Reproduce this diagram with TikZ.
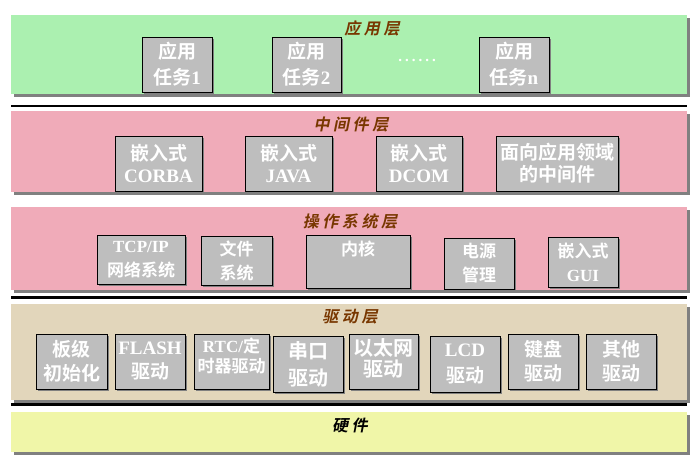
\documentclass[tikz,border=0pt]{standalone}
\usepackage{fontspec}
\setmainfont{Liberation Serif}
\newfontfamily\zhfont{Noto Sans CJK SC Bold}
\newfontfamily\zhtitle{Noto Sans CJK SC Bold}[FakeSlant=0.2,LetterSpace=22]
\usetikzlibrary{shadows}
\definecolor{appgreen}{RGB}{171,240,176}
\definecolor{layerpink}{RGB}{240,171,185}
\definecolor{drvtan}{RGB}{226,214,187}
\definecolor{hwyellow}{RGB}{240,246,168}
\definecolor{boxgray}{RGB}{190,190,190}
\definecolor{shadowgray}{RGB}{128,128,128}
\definecolor{titlebrown}{RGB}{120,55,0}
\newcommand\cn[1]{{\zhfont\mdseries #1}}
\tikzset{
  layer/.style={inner sep=0pt, minimum width=676pt,
    general shadow={fill=shadowgray, shadow xshift=2.5pt, shadow yshift=-2.5pt}},
  layertitle/.style={inner sep=0pt, text=titlebrown, font=\zhtitle\fontsize{16}{18}\selectfont},
  box/.style={draw=black, line width=0.8pt, fill=boxgray, text=white, align=center,
    inner sep=0pt, font=\bfseries\fontsize{19}{26}\selectfont,
    general shadow={fill=shadowgray, shadow xshift=2pt, shadow yshift=-2pt}},
  midbox/.style={box, font=\bfseries\fontsize{19}{22}\selectfont},
  osbox/.style={box, font=\bfseries\fontsize{17}{24}\selectfont},
  drvbox/.style={box, font=\bfseries\fontsize{19}{24}\selectfont},
  sepline/.style={line width=2.5pt, black},
}
\begin{document}
\begin{tikzpicture}[x=1pt,y=-1pt]
\useasboundingbox (0,0) rectangle (699,464);
% layers
\node[layer, fill=appgreen, minimum height=79pt] (app) at (349,54.5) {};
\node[layer, fill=layerpink, minimum height=81pt] (mid) at (349,151.5) {};
\node[layer, fill=layerpink, minimum height=83pt] (os) at (349,248.5) {};
\node[layer, fill=drvtan, minimum height=96pt] (drv) at (349,352) {};
\node[layer, fill=hwyellow, minimum height=40pt] (hw) at (349,432) {};
% separator lines
\coordinate (s1a) at (11,106); \coordinate (s1b) at (687,106);
\coordinate (s2a) at (11,297.5); \coordinate (s2b) at (687,297.5);
\coordinate (s3a) at (11,404.5); \coordinate (s3b) at (687,404.5);
\draw[sepline] (s1a) -- (s1b);
\draw[sepline] (s2a) -- (s2b);
\draw[sepline] (s3a) -- (s3b);
% titles
\node[layertitle] (tapp) at (372,28) {应用层};
\node[layertitle] (tmid) at (351,125) {中间件层};
\node[layertitle] (tos) at (350,221) {操作系统层};
\node[layertitle] (tdrv) at (350,317) {驱动层};
\node[layertitle, text=black] (thw) at (350,425) {硬件};
% application layer
\node[box, minimum width=70pt, minimum height=55pt] (t1) at (177,64.5) {\cn{应用}\\\cn{任务}1};
\node[box, minimum width=69pt, minimum height=55pt] (t2) at (306.5,64.5) {\cn{应用}\\\cn{任务}2};
\node[inner sep=0pt, text=white, font=\bfseries\fontsize{15}{15}\selectfont] (dots) at (417,60) {.\kern3pt.\kern3pt.\kern3pt.\kern3pt.\kern3pt.};
\node[box, minimum width=70pt, minimum height=55pt] (tn) at (514,64.5) {\cn{应用}\\\cn{任务}n};
% middleware layer
\node[midbox, minimum width=87pt, minimum height=55pt] (corba) at (158.5,163.5) {\cn{嵌入式}\\CORBA};
\node[midbox, minimum width=87pt, minimum height=55pt] (java) at (288.5,163.5) {\cn{嵌入式}\\JAVA};
\node[midbox, minimum width=86pt, minimum height=55pt] (dcom) at (419,163.5) {\cn{嵌入式}\\DCOM};
\node[midbox, minimum width=122pt, minimum height=55pt] (domain) at (557,163.5) {\cn{面向应用领域}\\\cn{的中间件}};
% OS layer
\node[osbox, minimum width=88pt, minimum height=49pt] (tcp) at (141,259.5) {TCP/IP\\\cn{网络系统}};
\node[osbox, minimum width=71pt, minimum height=49pt] (fs) at (236.5,260.5) {\cn{文件}\\\cn{系统}};
\node[osbox, minimum width=104pt, minimum height=53pt,
  label={[text=white, font=\fontsize{17}{20}\selectfont, anchor=north, yshift=-3pt]north:\cn{内核}}] (kernel) at (358,261.5) {};
\node[osbox, minimum width=70pt, minimum height=51pt] (power) at (479,263.5) {\cn{电源}\\\cn{管理}};
\node[osbox, minimum width=70pt, minimum height=50pt] (gui) at (583,262) {\cn{嵌入式}\\GUI};
% driver layer
\node[drvbox, minimum width=71pt, minimum height=55pt] (board) at (71.5,361.5) {\cn{板级}\\\cn{初始化}};
\node[drvbox, minimum width=70pt, minimum height=55pt] (flash) at (150,361.5) {\raisebox{3pt}{FLASH}\\\raisebox{3pt}{\cn{驱动}}};
\node[drvbox, minimum width=75pt, minimum height=55pt,
  label={[text=white, align=center, font=\bfseries\fontsize{17}{20}\selectfont, yshift=6pt]center:RTC/\cn{定}\\\cn{时器驱动}}] (rtc) at (231.5,361.5) {};
\node[drvbox, minimum width=70pt, minimum height=56pt, font=\bfseries\fontsize{20}{27}\selectfont] (uart) at (308,364) {\cn{串口}\\\cn{驱动}};
\node[drvbox, minimum width=69pt, minimum height=55pt,
  label={[text=white, align=center, font=\bfseries\fontsize{20}{21}\selectfont, yshift=3pt]center:\cn{以太网}\\\cn{驱动}}] (eth) at (383.5,361.5) {};
\node[drvbox, minimum width=70pt, minimum height=56pt, font=\bfseries\fontsize{19}{26}\selectfont] (lcd) at (465,364) {LCD\\\cn{驱动}};
\node[drvbox, minimum width=70pt, minimum height=55pt] (kbd) at (543,361.5) {\cn{键盘}\\\cn{驱动}};
\node[drvbox, minimum width=70pt, minimum height=55pt] (other) at (621,361.5) {\cn{其他}\\\cn{驱动}};
\end{tikzpicture}
\end{document}
